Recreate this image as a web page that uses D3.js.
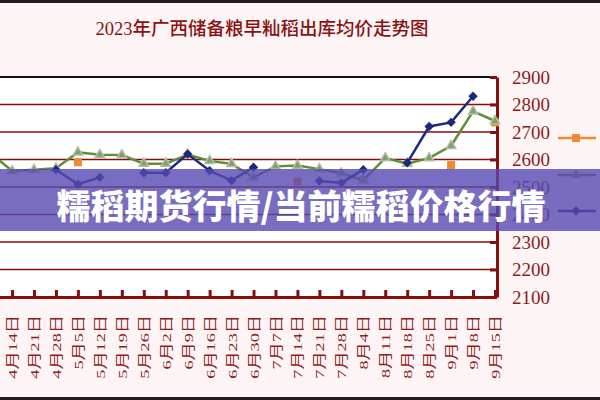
<!DOCTYPE html>
<html>
<head>
<meta charset="utf-8">
<script src="https://cdn.jsdelivr.net/npm/d3@7"></script>
<style>
  html,body{margin:0;padding:0;background:#fdf5f5;}
  svg{display:block;}
</style>
</head>
<body>
<svg id="chart" width="600" height="400"></svg>
<script>
// ---------- data ----------
const titleText = "2023年广西储备粮早籼稻出库均价走势图";
const bannerText = "糯稻期货行情/当前糯稻价格行情";
const categories = ["4月7日","4月14日","4月21日","4月28日","5月5日","5月12日","5月19日","5月26日",
  "6月2日","6月9日","6月16日","6月23日","6月30日","7月7日","7月14日","7月21日","7月28日",
  "8月4日","8月11日","8月18日","8月25日","9月1日","9月8日","9月15日"];
const visibleCategories = categories.slice(1);
const orangeValues = [null,null,null,null,2590,null,null,null,null,null,null,null,null,null,2520,null,null,2525,null,null,null,2580,null,2735];
const greenValues  = [2625,2558,2563,2568,2626,2617,2616,2585,2585,2618,2595,2584,2535,2575,2578,2565,2550,2525,2605,2585,2605,2650,2775,2740];
const blueValues   = [null,null,null,2563,2510,2535,null,2552,2552,2620,2559,2523,2572,null,null,2522,2515,2563,null,2588,2720,2735,2830,null];
const yTicks = [2100,2200,2300,2400,2500,2600,2700,2800,2900];

// ---------- layout ----------
const svg = d3.select("#chart");
const W = 600, H = 400;
const plotLeft = 0, plotRight = 497, plotTop = 77, plotBottom = 297;
const maroon = "#8b0a0a";
const labelColor = "#8e1c1c";

svg.append("rect").attr("width", W).attr("height", H).attr("fill", "#fdf5f5");
svg.append("rect").attr("x", plotLeft).attr("y", plotTop)
  .attr("width", plotRight - plotLeft).attr("height", plotBottom - plotTop).attr("fill", "#ffffff");

const x = d3.scalePoint().domain(categories).range([-9.9, 495]);
const y = d3.scaleLinear().domain([2100, 2900]).range([plotBottom, plotTop]);

// title
svg.append("text").attr("x", 262).attr("y", 35)
  .attr("text-anchor", "middle")
  .attr("font-family", "'Liberation Serif','Noto Sans CJK SC',serif")
  .attr("font-size", 18.5).attr("font-weight", 500).attr("fill", "#8a1212")
  .text(titleText);

// gridlines
svg.append("g").selectAll("line").data(yTicks.filter(t => t > 2100))
  .join("line")
  .attr("x1", plotLeft).attr("x2", plotRight)
  .attr("y1", d => y(d)).attr("y2", d => y(d))
  .attr("stroke", d => d === 2900 ? "#111" : maroon)
  .attr("stroke-width", d => d === 2900 ? 1.8 : 1.3);

// bottom axis
const xAxis = d3.axisBottom(x).tickValues(visibleCategories).tickSize(-7).tickSizeOuter(0).tickFormat("");
const gx = svg.append("g").attr("transform", `translate(0,${plotBottom})`).call(xAxis);
gx.select(".domain").attr("stroke", maroon).attr("stroke-width", 3);
gx.selectAll(".tick line").attr("stroke", maroon).attr("stroke-width", 3);

// x labels (vertical)
svg.append("g").selectAll("text").data(visibleCategories).join("text")
  .attr("transform", d => `translate(${x(d) + 0.5},315) rotate(-90) scale(1.38,1)`)
  .attr("text-anchor", "end")
  .attr("dominant-baseline", "central")
  .attr("font-family", "'Liberation Serif','Noto Sans CJK SC',serif")
  .attr("font-size", 13.2).attr("fill", labelColor)
  .text(d => d);

// right axis
const yAxis = d3.axisRight(y).tickValues(yTicks).tickSize(-7).tickSizeOuter(0).tickPadding(15).tickFormat(d3.format("d"));
const gy = svg.append("g").attr("transform", `translate(${plotRight},0)`).call(yAxis);
gy.select(".domain").attr("stroke", maroon).attr("stroke-width", 3);
gy.selectAll(".tick line").attr("stroke", maroon).attr("stroke-width", 3);
gy.selectAll(".tick text").attr("font-family", "'Liberation Serif',serif")
  .attr("font-size", 19).attr("fill", labelColor);

// series
const toPts = vals => categories.map((c, i) => ({c, v: vals[i]}));
const line = d3.line().defined(d => d.v != null).x(d => x(d.c)).y(d => y(d.v));

const orangeC = "#ef8a2e", greenC = "#5f8f37", blueC = "#1c2d7e";

// orange
svg.append("path").datum(toPts(orangeValues)).attr("d", line)
  .attr("fill", "none").attr("stroke", orangeC).attr("stroke-width", 2.5);
svg.append("g").selectAll("path").data(toPts(orangeValues).filter(d => d.v != null)).join("path")
  .attr("d", d3.symbol(d3.symbolSquare, 64))
  .attr("transform", d => `translate(${x(d.c)},${y(d.v)})`)
  .attr("fill", orangeC);

// green
svg.append("path").datum(toPts(greenValues)).attr("d", line)
  .attr("fill", "none").attr("stroke", greenC).attr("stroke-width", 2.5);
svg.append("g").selectAll("path").data(toPts(greenValues).filter(d => d.v != null)).join("path")
  .attr("d", d3.symbol(d3.symbolTriangle, 38))
  .attr("transform", d => `translate(${x(d.c)},${y(d.v)})`)
  .attr("fill", "#7fa05e").attr("stroke", "#b3bcab").attr("stroke-width", 1.5);

// blue
svg.append("path").datum(toPts(blueValues)).attr("d", line)
  .attr("fill", "none").attr("stroke", blueC).attr("stroke-width", 2.5);
svg.append("g").selectAll("path").data(toPts(blueValues).filter(d => d.v != null)).join("path")
  .attr("d", d3.symbol(d3.symbolSquare, 44))
  .attr("transform", d => `translate(${x(d.c)},${y(d.v)}) rotate(45)`)
  .attr("fill", "#1a2a7a");

// legend (labels fall outside the picture)
const legend = [
  {yy: 138, color: orangeC, sym: d3.symbol(d3.symbolSquare, 64), rot: 0, fill: orangeC},
  {yy: 175, color: greenC, sym: d3.symbol(d3.symbolTriangle, 38), rot: 0, fill: "#7fa05e"},
  {yy: 211, color: blueC, sym: d3.symbol(d3.symbolSquare, 44), rot: 45, fill: "#1a2a7a"}
];
const lg = svg.append("g").selectAll("g").data(legend).join("g");
lg.append("line").attr("x1", 558).attr("x2", 596).attr("y1", d => d.yy).attr("y2", d => d.yy)
  .attr("stroke", d => d.color).attr("stroke-width", 2.5);
lg.append("path").attr("d", d => d.sym()).attr("fill", d => d.fill)
  .attr("transform", d => `translate(576,${d.yy}) rotate(${d.rot})`);

// banner overlay
svg.append("rect").attr("x", 0).attr("y", 169).attr("width", W).attr("height", 62)
  .attr("fill", "rgb(88,72,178)").attr("fill-opacity", 0.8);
svg.append("text").attr("x", 301).attr("y", 204)
  .attr("text-anchor", "middle").attr("dominant-baseline", "central")
  .attr("font-family", "'Noto Sans CJK SC',sans-serif")
  .attr("font-weight", 900).attr("font-size", 34).attr("fill", "#ffffff")
  .text(bannerText);

// dark frame edges
svg.append("rect").attr("x", 0).attr("y", 0).attr("width", W).attr("height", 3).attr("fill", "#1e1e1e");
svg.append("rect").attr("x", 0).attr("y", 397).attr("width", W).attr("height", 3).attr("fill", "#1e1e1e");
</script>
</body>
</html>
